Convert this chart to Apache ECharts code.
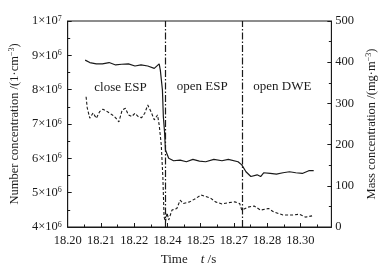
<!DOCTYPE html>
<html>
<head>
<meta charset="utf-8">
<script src="https://cdn.jsdelivr.net/npm/echarts@6/dist/echarts.min.js"></script>
<style>
  html, body { margin: 0; padding: 0; background: #fff; }
  #chart { width: 386px; height: 279px; }
</style>
</head>
<body>
<div id="chart"></div>
<script>
// x axis: ticks every 0.1/7 s starting at 18.20, labels as printed (truncated)
const xLabels = ['18.20', '18.21', '18.22', '18.24', '18.25', '18.27', '18.28', '18.30']
const tStart = 18.20
const tStep = 0.1 / 7

// number concentration (×10^6 cm^-3), solid line, left axis
const numTime = [18.2075, 18.2095, 18.2123, 18.2149, 18.2178, 18.2206, 18.2232, 18.2261, 18.2289, 18.2315,
  18.2344, 18.2372, 18.2393, 18.2398, 18.2407, 18.2411, 18.2416, 18.2420, 18.2434, 18.2455,
  18.2483, 18.2510, 18.2538, 18.2566, 18.2593, 18.2628, 18.2663, 18.2690, 18.2732, 18.2748,
  18.2766, 18.2787, 18.2814, 18.2829, 18.2842, 18.2870, 18.2897, 18.2925, 18.2953, 18.2980,
  18.3008, 18.3036, 18.3057]
const numValue = [8.86, 8.79, 8.75, 8.75, 8.79, 8.72, 8.74, 8.75, 8.69, 8.72,
  8.69, 8.62, 8.75, 8.57, 7.99, 7.21, 6.78, 6.24, 6.00, 5.93,
  5.95, 5.90, 5.97, 5.92, 5.90, 5.97, 5.93, 5.97, 5.90, 5.81,
  5.61, 5.47, 5.52, 5.47, 5.58, 5.56, 5.54, 5.58, 5.61, 5.58,
  5.56, 5.64, 5.64]

// mass concentration (mg/m^3), dashed line, right axis
const massTime = [18.2079, 18.2084, 18.2095, 18.2109, 18.2123, 18.2137, 18.2151, 18.2165, 18.2178, 18.2192,
  18.2206, 18.2220, 18.2234, 18.2248, 18.2261, 18.2275, 18.2289, 18.2303, 18.2317, 18.2331,
  18.2344, 18.2358, 18.2372, 18.2386, 18.2393, 18.2402, 18.2409, 18.2414, 18.2420, 18.2427,
  18.2434, 18.2448, 18.2469, 18.2483, 18.2497, 18.2524, 18.2552, 18.2573, 18.2593, 18.2614,
  18.2635, 18.2663, 18.2690, 18.2718, 18.2739, 18.2748, 18.2773, 18.2801, 18.2829, 18.2863,
  18.2884, 18.2925, 18.2967, 18.2995, 18.3022, 18.3050]
const massValue = [316, 289, 264, 277, 264, 280, 286, 282, 277, 272,
  265, 255, 284, 288, 272, 268, 276, 268, 265, 276,
  296, 280, 260, 272, 248, 200, 120, 25, 13, 34,
  17, 41, 45, 65, 57, 61, 70, 78, 74, 70,
  61, 56, 59, 61, 57, 41, 48, 51, 41, 45,
  37, 29, 29, 31, 24, 27]

// stage switch times (dash-dot lines) and stage labels
const switchTimes = [18.2420, 18.2748]
const stageNames = ['close ESP', 'open ESP', 'open DWE']
const stageTime = [18.2227, 18.2578, 18.2922]
const stageLevel = [8.05, 8.08, 8.08]

const font = 'Liberation Serif'
const ink = '#1a1a1a'
const toAxis = (t) => (t - tStart) / tStep

const chart = echarts.init(document.getElementById('chart'), null, { renderer: 'canvas' })

const tickStyle = { inside: true, length: 4, lineStyle: { color: ink, width: 1 } }
const minorStyle = { show: true, splitNumber: 2, length: 2.5, lineStyle: { color: ink, width: 1 } }
const supRich = {
  a: { fontFamily: font, fontSize: 12.5, color: ink },
  s: { fontFamily: font, fontSize: 8, color: ink, verticalAlign: 'top', padding: [0, 0, 5, 0] },
}

chart.setOption({
  backgroundColor: '#fff',
  animation: false,
  grid: { left: 67, right: 46, top: 21, bottom: 52, show: true, borderColor: ink, borderWidth: 1 },
  xAxis: {
    type: 'value',
    min: 0,
    max: 7.93,
    interval: 1,
    name: '{a|Time}{a|    }{i|t}{a| /s}',
    nameLocation: 'middle',
    nameGap: 26,
    nameTextStyle: {
      padding: [0, 22, 0, 0],
      rich: {
        a: { fontFamily: font, fontSize: 13, color: ink },
        i: { fontFamily: font, fontSize: 13, color: ink, fontStyle: 'italic' },
      },
    },
    axisLine: { lineStyle: { color: ink, width: 1 } },
    axisTick: tickStyle,
    minorTick: minorStyle,
    splitLine: { show: false },
    axisLabel: {
      margin: 7,
      fontFamily: font,
      fontSize: 12.5,
      color: ink,
      formatter: (v) => (Number.isInteger(v) && xLabels[v] !== undefined ? xLabels[v] : ''),
    },
  },
  yAxis: [
    {
      type: 'value',
      min: 4,
      max: 10,
      interval: 1,
      position: 'left',
      name: '{a|Number concentration /(1·cm}{s|−3}{a|)}',
      nameLocation: 'middle',
      nameRotate: 90,
      nameGap: 46,
      nameTextStyle: { rich: supRich },
      axisLine: { show: true, lineStyle: { color: ink, width: 1 } },
      axisTick: tickStyle,
      minorTick: minorStyle,
      splitLine: { show: false },
      axisLabel: {
        margin: 6,
        formatter: (v) => (v === 10 ? '{a|1×10}{s|7}' : `{a|${v}×10}{s|6}`),
        rich: supRich,
      },
    },
    {
      type: 'value',
      min: 0,
      max: 500,
      interval: 100,
      position: 'right',
      name: '{a|Mass concentration /(mg·m}{s|−3}{a|)}',
      nameLocation: 'middle',
      nameRotate: 90,
      nameGap: 29,
      nameTextStyle: { rich: supRich },
      axisLine: { show: true, lineStyle: { color: ink, width: 1 } },
      axisTick: tickStyle,
      minorTick: minorStyle,
      splitLine: { show: false },
      axisLabel: { margin: 4, fontFamily: font, fontSize: 12.5, color: ink },
    },
  ],
  series: [
    {
      name: 'number',
      type: 'line',
      yAxisIndex: 0,
      showSymbol: false,
      data: numTime.map((t, i) => [toAxis(t), numValue[i]]),
      lineStyle: { color: ink, width: 1.2 },
      markLine: {
        silent: true,
        symbol: 'none',
        label: { show: false },
        lineStyle: { color: ink, width: 1.2, type: [7, 2, 1.5, 2] },
        data: switchTimes.map((t) => ({ xAxis: toAxis(t) })),
      },
      markPoint: {
        symbolSize: 0,
        label: { show: true, position: 'inside', formatter: '{b}', fontFamily: font, fontSize: 13, color: ink },
        data: stageNames.map((n, i) => ({ name: n, coord: [toAxis(stageTime[i]), stageLevel[i]] })),
      },
    },
    {
      name: 'mass',
      type: 'line',
      yAxisIndex: 1,
      showSymbol: false,
      data: massTime.map((t, i) => [toAxis(t), massValue[i]]),
      lineStyle: { color: ink, width: 1.1, type: [3, 2] },
    },
  ],
})
</script>
</body>
</html>
